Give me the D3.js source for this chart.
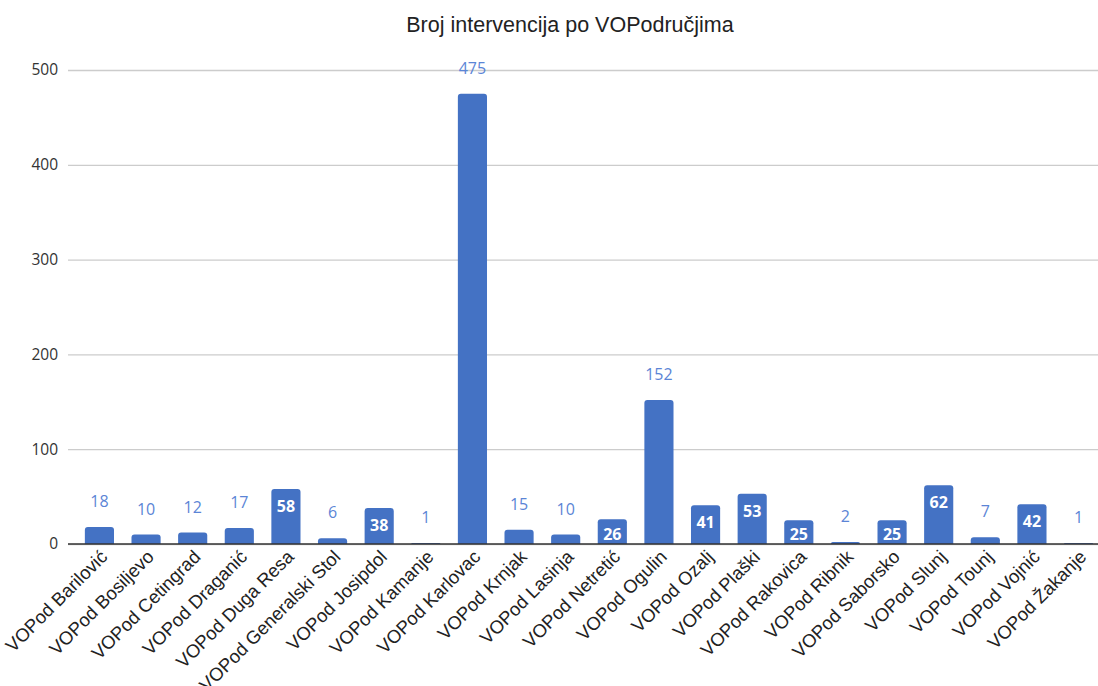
<!DOCTYPE html>
<html>
<head>
<meta charset="utf-8">
<script src="https://cdn.jsdelivr.net/npm/d3@7"></script>
<style>
  body { margin: 0; background: #fff; }
  svg { display: block; }
</style>
</head>
<body>
<svg id="chart" width="1098" height="686"></svg>
<script>
// data
var categories = ['VOPod Barilović', 'VOPod Bosiljevo', 'VOPod Cetingrad', 'VOPod Draganić',
  'VOPod Duga Resa', 'VOPod Generalski Stol', 'VOPod Josipdol', 'VOPod Kamanje',
  'VOPod Karlovac', 'VOPod Krnjak', 'VOPod Lasinja', 'VOPod Netretić', 'VOPod Ogulin',
  'VOPod Ozalj', 'VOPod Plaški', 'VOPod Rakovica', 'VOPod Ribnik', 'VOPod Saborsko',
  'VOPod Slunj', 'VOPod Tounj', 'VOPod Vojnić', 'VOPod Žakanje'];
var values = [18, 10, 12, 17, 58, 6, 38, 1, 475, 15, 10, 26, 152, 41, 53, 25, 2, 25, 62, 7, 42, 1];
var yTicks = [0, 100, 200, 300, 400, 500];
var title = 'Broj intervencija po VOPodručjima';

var svg = d3.select('#chart');

var x = d3.scaleBand()
  .domain(categories)
  .range([76, 1102])
  .paddingInner(0.375)
  .paddingOuter(0.19);

var y = d3.scaleLinear()
  .domain([0, 500])
  .range([544, 70]);

// title
svg.append('text')
  .attr('x', 570)
  .attr('y', 32)
  .attr('text-anchor', 'middle')
  .style('font-family', 'Liberation Sans, Arial, sans-serif')
  .style('font-size', '21.5px')
  .style('fill', '#222')
  .text(title);

// grid + y labels
var yAxis = d3.axisLeft(y)
  .tickValues(yTicks)
  .tickSize(-1030)
  .tickPadding(10)
  .tickFormat(d3.format('d'));

var gy = svg.append('g')
  .attr('transform', 'translate(68,0)')
  .call(yAxis);
gy.select('.domain').remove();
gy.selectAll('.tick line').attr('stroke', '#ccc').attr('stroke-width', 1.3);
gy.selectAll('.tick text')
  .style('font-family', 'Open Sans, sans-serif')
  .style('font-size', '15.5px')
  .style('fill', '#333');

// bars with rounded tops
function barPath(d, i) {
  var x0 = x(categories[i]), w = x.bandwidth();
  var top = y(d), base = y(0);
  var r = Math.min(3, (base - top));
  return 'M' + x0 + ',' + base +
    'V' + (top + r) +
    'Q' + x0 + ',' + top + ' ' + (x0 + r) + ',' + top +
    'H' + (x0 + w - r) +
    'Q' + (x0 + w) + ',' + top + ' ' + (x0 + w) + ',' + (top + r) +
    'V' + base + 'Z';
}

svg.append('g').selectAll('path')
  .data(values)
  .enter().append('path')
  .attr('d', barPath)
  .attr('fill', '#4472c4');

// baseline
svg.append('line')
  .attr('x1', 68).attr('x2', 1098)
  .attr('y1', y(0)).attr('y2', y(0))
  .attr('stroke', '#333')
  .attr('stroke-width', 1.3);

// value labels: inside (white) when the bar is mid sized, above otherwise
function inside(d) { return d >= 20 && d < 100; }

svg.append('g').selectAll('text')
  .data(values)
  .enter().append('text')
  .attr('x', function(d, i){ return x(categories[i]) + x.bandwidth() / 2; })
  .attr('y', function(d){
    return inside(d) ? Math.min(y(d) + 23, 540) : y(d) - 20;
  })
  .attr('text-anchor', 'middle')
  .style('font-family', 'Open Sans, sans-serif')
  .style('font-size', '16px')
  .style('font-weight', function(d){ return inside(d) ? 'bold' : 'normal'; })
  .style('fill', function(d){ return inside(d) ? '#fff' : '#5b85d6'; })
  .text(function(d){ return d; });

// category labels, rotated
svg.append('g').selectAll('text')
  .data(categories)
  .enter().append('text')
  .attr('transform', function(d){
    var cx = x(d) + x.bandwidth() / 2 + 9;
    return 'translate(' + cx + ',558) rotate(-45)';
  })
  .attr('text-anchor', 'end')
  .style('font-family', 'Liberation Sans, Arial, sans-serif')
  .style('font-size', '18.5px')
  .style('fill', '#222')
  .text(function(d){ return d; });
</script>
</body>
</html>
